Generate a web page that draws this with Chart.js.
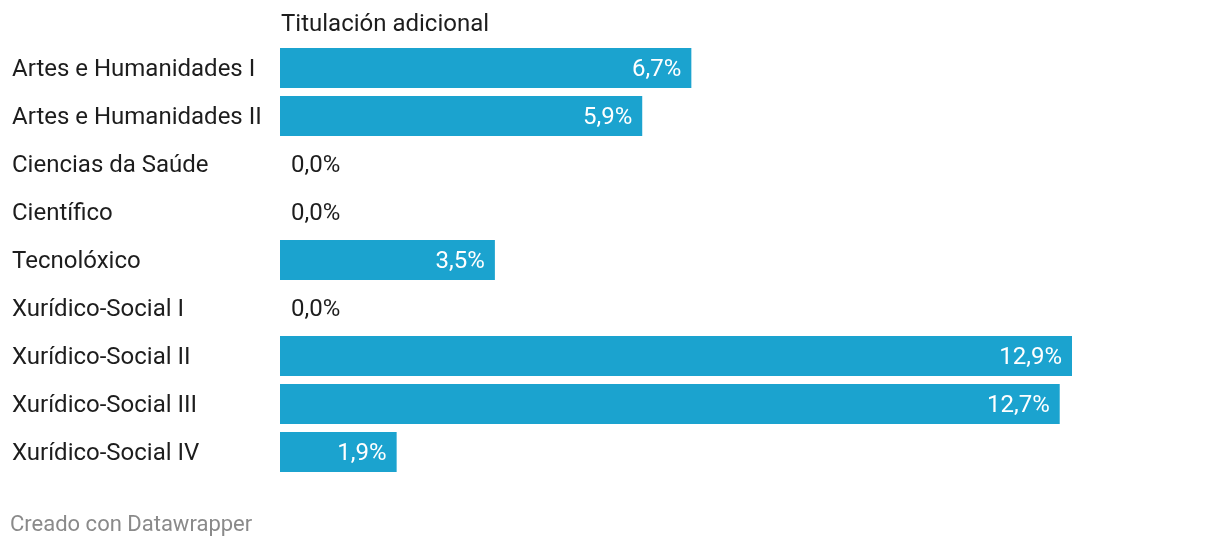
<!DOCTYPE html>
<html>
<head>
<meta charset="utf-8">
<script src="https://cdn.jsdelivr.net/npm/chart.js@4"></script>
<style>
  body { margin: 0; background: #fff; }
  #wrap { width: 1220px; height: 548px; position: relative; }
</style>
</head>
<body>
<div id="wrap"><canvas id="chart"></canvas></div>
<script>
const categories = [
  'Artes e Humanidades I',
  'Artes e Humanidades II',
  'Ciencias da Saúde',
  'Científico',
  'Tecnolóxico',
  'Xurídico-Social I',
  'Xurídico-Social II',
  'Xurídico-Social III',
  'Xurídico-Social IV'
];
const values = [6.7, 5.9, 0.0, 0.0, 3.5, 0.0, 12.9, 12.7, 1.9];
const seriesName = 'Titulación adicional';
const footerText = 'Creado con Datawrapper';

const fmt = v => v.toFixed(1).replace('.', ',') + '%';

// title, category labels, footer
const textPlugin = {
    id: 'texts',
    afterDraw(chart) {
        const ctx = chart.ctx;
        const area = chart.chartArea;
        const yScale = chart.scales.y;
        ctx.save();
        ctx.textBaseline = 'middle';
        ctx.textAlign = 'left';
        ctx.fillStyle = '#1d1d1d';
        ctx.font = '24px Roboto';
        ctx.fillText(seriesName, area.left + 1, 25);
        categories.forEach((c, i) => {
            ctx.fillText(c, 12, yScale.getPixelForValue(i) + 1.5);
        });
        ctx.fillStyle = '#8a8a8a';
        ctx.font = '22px Roboto';
        ctx.fillText(footerText, 10, 525);
        ctx.restore();
    }
};

// value labels inside / beside the bars
const valueLabels = {
    id: 'valueLabels',
    afterDatasetsDraw(chart) {
        const ctx = chart.ctx;
        const meta = chart.getDatasetMeta(0);
        ctx.save();
        ctx.font = '24px Roboto';
        ctx.textBaseline = 'middle';
        meta.data.forEach((bar, i) => {
            const v = values[i];
            if (v > 0) {
                ctx.fillStyle = '#ffffff';
                ctx.textAlign = 'right';
                ctx.fillText(fmt(v), bar.x - 10, bar.y + 1.5);
            } else {
                ctx.fillStyle = '#1d1d1d';
                ctx.textAlign = 'left';
                ctx.fillText(fmt(v), bar.base + 11, bar.y + 1.5);
            }
        });
        ctx.restore();
    }
};

const chart = new Chart(document.getElementById('chart'), {
    type: 'bar',
    data: {
        labels: categories,
        datasets: [{
            label: seriesName,
            data: values,
            backgroundColor: '#1ba3cf',
            borderWidth: 0,
            barPercentage: 1,
            categoryPercentage: 40 / 48
        }]
    },
    options: {
        indexAxis: 'y',
        responsive: true,
        maintainAspectRatio: false,
        animation: false,
        layout: {
            padding: { left: 12, right: 148, top: 44, bottom: 72 }
        },
        plugins: {
            legend: { display: false },
            tooltip: { enabled: false }
        },
        scales: {
            x: {
                display: false,
                min: 0,
                max: 12.9
            },
            y: {
                afterFit(scale) { scale.width = 268; },
                grid: { display: false, drawTicks: false },
                border: { display: false },
                ticks: { display: false }
            }
        }
    },
    plugins: [valueLabels, textPlugin]
});
</script>
</body>
</html>
